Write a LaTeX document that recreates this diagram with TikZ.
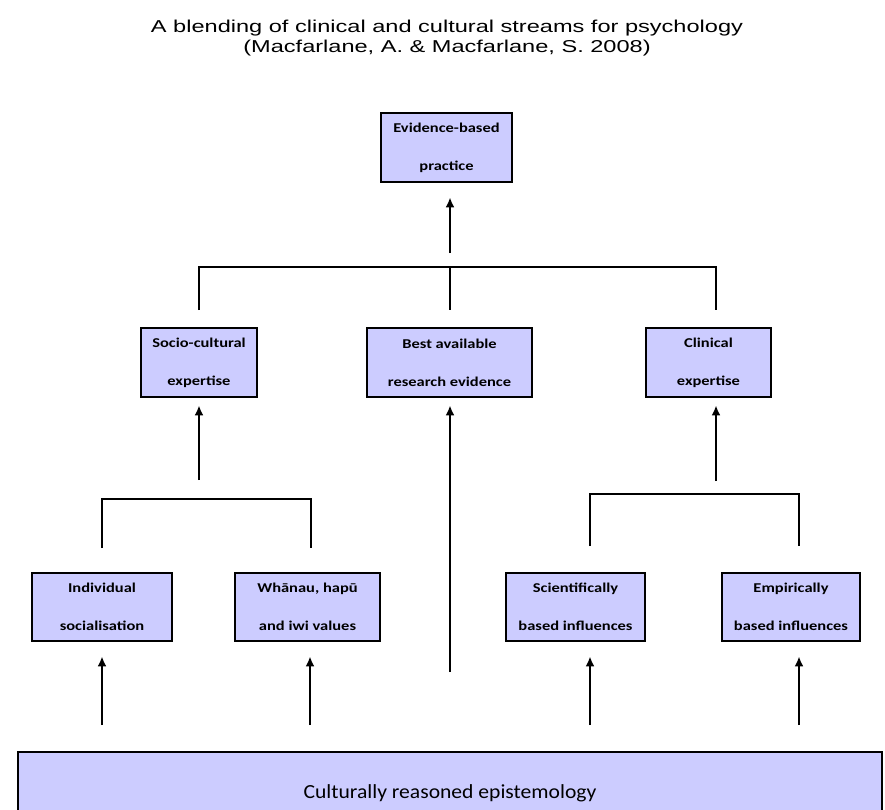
\documentclass[tikz,border=0pt]{standalone}
\usepackage{fontspec}
\newfontfamily\titlefont[FakeStretch=1.37]{Liberation Sans}
\newfontfamily\boxfont[FakeStretch=1.22]{Carlito}
\newfontfamily\basefont[FakeStretch=1.08]{Carlito}
\usetikzlibrary{arrows.meta}
\definecolor{boxblue}{RGB}{204,204,255}
\tikzset{
  factor/.style={draw, line width=2.8pt, fill=boxblue, inner sep=0pt, align=center,
    minimum height=69pt, font=\boxfont\bfseries\fontsize{13.5}{38}\selectfont},
  uparrow/.style={line width=2.5pt, -{Latex[length=10pt,width=9pt]}},
  fork/.style={line width=2.6pt},
  thinfork/.style={line width=1.9pt}
}

\begin{document}
\begin{tikzpicture}[x=1pt, y=-1pt]
\clip (0,0) rectangle (885,809);
\node[font=\titlefont\fontsize{17.2}{20}\selectfont, align=center] (title) at (447,38)
  {A blending of clinical and cultural streams for psychology\\(Macfarlane, A. \& Macfarlane, S. 2008)};

\node[factor, minimum width=131pt] (ebp) at (446.5,147.5) {Evidence-based\\practice};
\node[factor, minimum width=116pt] (socio) at (199,362.5) {Socio-cultural\\expertise};
\node[factor, minimum width=165pt] (best) at (449.5,362.5) {Best available\\research evidence};
\node[factor, minimum width=125pt] (clin) at (708.5,362.5) {Clinical\\expertise};
\node[factor, minimum width=140pt, minimum height=68pt] (indiv) at (102,607) {Individual\\socialisation};
\node[factor, minimum width=145pt, minimum height=68pt] (whanau) at (307.5,607) {Whānau, hapū\\and iwi values};
\node[factor, minimum width=139pt, minimum height=68pt] (sci) at (575.5,607) {Scientifically\\based influences};
\node[factor, minimum width=138pt, minimum height=68pt] (emp) at (791,607) {Empirically\\based influences};
\node[factor, minimum width=864pt, minimum height=83pt,
  font=\basefont\fontsize{20}{22}\selectfont] (epist) at (450,793.5) {Culturally reasoned epistemology};

% upper fork
\coordinate (hub) at (450,267);
\coordinate (hubL) at (199,310);
\coordinate (hubM) at (450,310);
\coordinate (hubR) at (716,310);
\draw[fork] (hubL) |- (hubR |- hub) -- (hubR);
\draw[fork] (hub) -- (hubM);
\coordinate (a0) at (450,253);
\draw[uparrow, shorten >=14pt] (a0) -- (a0 |- ebp.south);

% middle stems
\coordinate (a1) at (199,480);
\coordinate (a2) at (450,672);
\coordinate (a3) at (716,481);
\draw[uparrow, shorten >=7pt] (a1) -- (a1 |- socio.south);
\draw[uparrow, shorten >=7pt] (a2) -- (a2 |- best.south);
\draw[uparrow, shorten >=7pt] (a3) -- (a3 |- clin.south);

% lower forks
\coordinate (forkL) at (102,548);
\coordinate (forkLr) at (311,548);
\coordinate (forkR) at (590,546);
\coordinate (forkRr) at (799,546);
\draw[thinfork] (forkL) |- (311,499) -- (forkLr);
\draw[thinfork] (forkR) |- (799,494) -- (forkRr);

% stems from the base
\foreach \x/\n in {102/indiv, 310/whanau, 590/sci, 799/emp}{
  \coordinate (b\n) at (\x,725);
  \draw[uparrow, shorten >=14pt] (b\n) -- (b\n |- \n.south);
}
\end{tikzpicture}
\end{document}
